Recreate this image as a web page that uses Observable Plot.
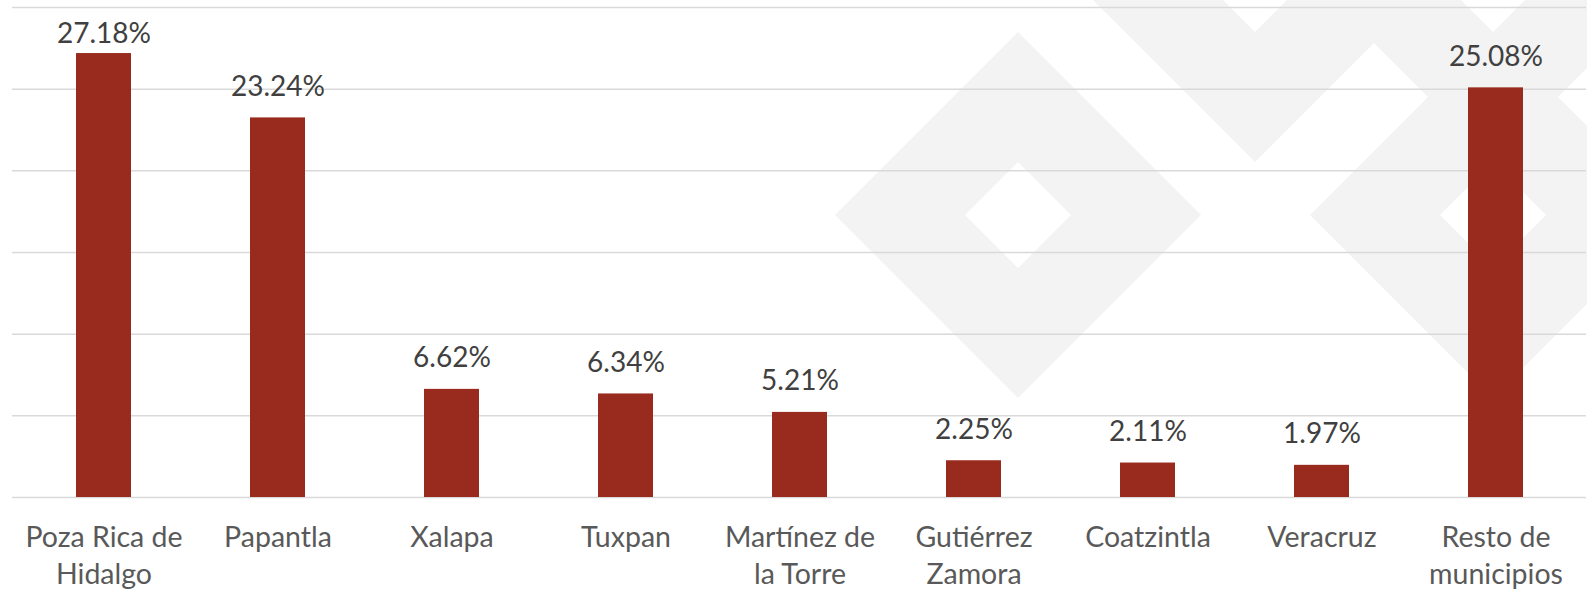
<!DOCTYPE html>
<html>
<head>
<meta charset="utf-8">
<script src="https://cdn.jsdelivr.net/npm/d3@7"></script>
<script src="https://cdn.jsdelivr.net/npm/@observablehq/plot@0.6"></script>
<style>
  html, body { margin: 0; padding: 0; background: #ffffff; }
  #wrap { position: relative; width: 1587px; height: 593px; overflow: hidden; background: #ffffff; }
  #wm { position: absolute; left: 0; top: 0; }
  #chart { position: absolute; left: 0; top: 0; }
</style>
</head>
<body>
<div id="wrap">
  <!-- decorative background watermark -->
  <svg id="wm" width="1587" height="593" viewBox="0 0 1587 593">
    <g fill="#f2f3f2" fill-rule="evenodd">
      <path d="M835,215 L1018,32 L1201,215 L1018,398 Z M965,215 L1018,268 L1071,215 L1018,162 Z"/>
      <path d="M1072,-21 L1255,-204 L1438,-21 L1255,162 Z M1202,-21 L1255,32 L1308,-21 L1255,-74 Z"/>
      <path d="M1310,-21 L1493,-204 L1676,-21 L1493,162 Z M1440,-21 L1493,32 L1546,-21 L1493,-74 Z"/>
      <path d="M1310,215 L1493,32 L1676,215 L1493,398 Z M1440,215 L1493,268 L1546,215 L1493,162 Z"/>
    </g>
  </svg>
  <div id="chart"></div>
</div>
<script>
const categories = [
  "Poza Rica de\nHidalgo",
  "Papantla",
  "Xalapa",
  "Tuxpan",
  "Martínez de\nla Torre",
  "Gutiérrez\nZamora",
  "Coatzintla",
  "Veracruz",
  "Resto de\nmunicipios"
];
const values = [27.18, 23.24, 6.62, 6.34, 5.21, 2.25, 2.11, 1.97, 25.08];
const yTicks = [0, 5, 10, 15, 20, 25, 30];
// data labels are kept inside the plot area (as the spreadsheet does): highest label anchor
const labelCap = 26.5;

const data = categories.map((c, i) => ({cat: c, value: values[i]}));

const chart = Plot.plot({
  width: 1587,
  height: 593,
  marginTop: 7,
  marginBottom: 96,
  marginLeft: 12,
  marginRight: 1,
  style: {background: "transparent", fontFamily: "Lato, 'Open Sans', sans-serif"},
  x: {domain: categories, paddingInner: 0.685, paddingOuter: 0.3425, axis: null},
  y: {domain: [0, 30], axis: null},
  marks: [
    Plot.ruleY(yTicks, {stroke: "#d9d9d9", strokeWidth: 1.5}),
    Plot.barY(data, {x: "cat", y: "value", fill: "#982b1e"}),
    Plot.text(data, {
      x: "cat", y: d => Math.min(d.value, labelCap),
      text: d => d.value.toFixed(2) + "%",
      lineAnchor: "bottom", dy: -22,
      fontSize: 28, fill: "#404040"
    }),
    Plot.text(data, {
      x: "cat", frameAnchor: "bottom",
      text: "cat",
      lineAnchor: "top", dy: 23,
      fontSize: 28.5, lineHeight: 1.3, fill: "#595959"
    })
  ]
});
document.getElementById("chart").appendChild(chart);
</script>
</body>
</html>
